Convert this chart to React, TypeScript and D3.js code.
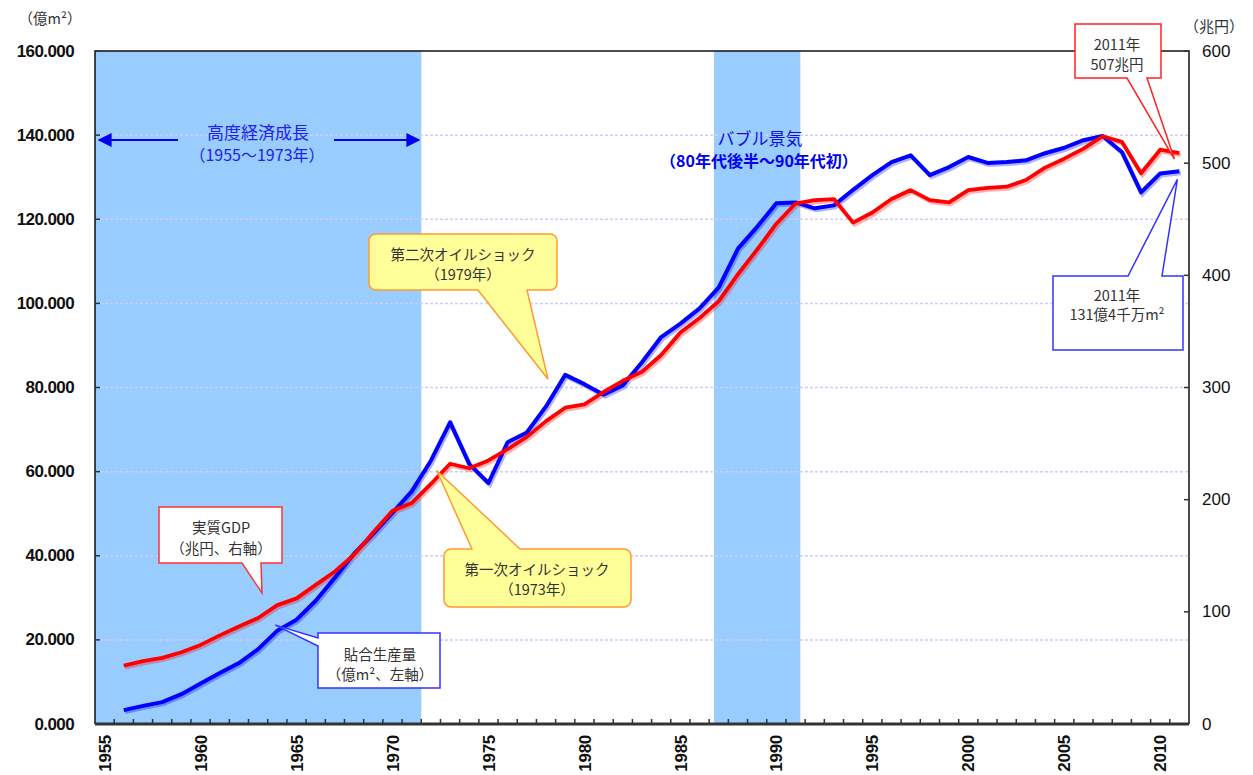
import React from 'react'
import * as d3 from 'd3'

// 段ボール（貼合）生産量と実質GDPの推移

const years = d3.range(1956, 2012)

// 貼合生産量（億m²、左軸）
const production = [
  3.3, 4.3, 5.2, 7.1, 9.6, 12.1, 14.5, 17.8, 22.2, 24.8,
  29.3, 34.8, 40.5, 45.2, 50.2, 55.3, 62.6, 71.7, 61.8, 57.3,
  67.0, 69.3, 75.5, 83.0, 80.8, 78.3, 80.5, 86.0, 92.0, 95.2,
  98.8, 103.8, 113.0, 118.2, 123.8, 124.0, 122.6, 123.3, 127.0, 130.5,
  133.6, 135.2, 130.5, 132.4, 134.8, 133.4, 133.6, 134.0, 135.7, 137.0,
  138.8, 139.8, 136.0, 126.4, 130.9, 131.4,
]

// 実質GDP（兆円、右軸）
const gdp = [
  52, 56, 59, 64, 70.5, 79, 87, 94.5, 106, 112,
  124, 136, 151, 171, 190, 197, 214, 232, 228, 235,
  245, 256, 270, 282, 285, 296, 306, 314, 329, 349,
  362, 377, 401, 423, 446, 464, 467, 468, 447, 456,
  468, 476, 467, 465, 476, 478, 479, 485, 496, 504,
  513, 524, 519, 491, 512, 509,
]

const leftTicks = [0, 20, 40, 60, 80, 100, 120, 140, 160]
const rightTicks = [0, 100, 200, 300, 400, 500, 600]
const yearLabels = [1955, 1960, 1965, 1970, 1975, 1980, 1985, 1990, 1995, 2000, 2005, 2010]

// 網掛け期間（年、カテゴリ境界基準）
const periods = [
  { from: 1954.5, to: 1971.5 },
  { from: 1986.75, to: 1991.25 },
]

const W = 1253
const H = 775
const left = 95
const right = 1189
const top = 51
const bottom = 724

const NUM = '"Liberation Sans", Arial, sans-serif'
const JP = '"Noto Sans CJK JP", "Noto Sans", sans-serif'

const x = d3.scaleLinear().domain([1954.5, 2011.5]).range([left, right])
const yL = d3.scaleLinear().domain([0, 160]).range([bottom, top])
const yR = d3.scaleLinear().domain([0, 600]).range([bottom, top])

const lineL = d3.line<number>().x((d, i) => x(years[i])).y(d => yL(d))
const lineR = d3.line<number>().x((d, i) => x(years[i])).y(d => yR(d))

// 吹き出し（角丸、しっぽ上下）
function roundBubble(l: number, t: number, r: number, b: number, rad: number,
  side: 'top' | 'bottom', x1: number, x2: number, ax: number, ay: number) {
  const p = d3.path()
  p.moveTo(l + rad, t)
  if (side === 'top') {
    p.lineTo(x1, t); p.lineTo(ax, ay); p.lineTo(x2, t)
  }
  p.lineTo(r - rad, t)
  p.arcTo(r, t, r, t + rad, rad)
  p.lineTo(r, b - rad)
  p.arcTo(r, b, r - rad, b, rad)
  if (side === 'bottom') {
    p.lineTo(x2, b); p.lineTo(ax, ay); p.lineTo(x1, b)
  }
  p.lineTo(l + rad, b)
  p.arcTo(l, b, l, b - rad, rad)
  p.lineTo(l, t + rad)
  p.arcTo(l, t, l + rad, t, rad)
  p.closePath()
  return p.toString()
}

const Txt = ({ x, y, children, size = 14.5, fill = '#333', weight = 'normal' }: any) => (
  <text x={x} y={y} textAnchor="middle" dominantBaseline="central"
    fontFamily={JP} fontSize={size} fill={fill} fontWeight={weight}>{children}</text>
)

export default function App() {
  return (
    <svg width={W} height={H} style={{ position: 'absolute', left: 0, top: 0, background: '#fff' }}>
      <defs>
        <marker id="arr" viewBox="0 0 10 10" refX="9" refY="5" markerWidth="7" markerHeight="7" orient="auto-start-reverse">
          <path d="M0,0 L10,5 L0,10 Z" fill="#0000ee" />
        </marker>
      </defs>

      {/* bands */}
      {periods.map((p, i) => (
        <rect key={i} x={x(p.from)} y={top} width={x(p.to) - x(p.from)} height={bottom - top} fill="#99ccff" />
      ))}

      {/* gridlines */}
      {leftTicks.slice(1, -1).map(t => (
        <line key={t} x1={left} x2={right} y1={yL(t)} y2={yL(t)} stroke="#ccccff" strokeWidth={1.5} strokeDasharray="3,2" />
      ))}

      {/* frame */}
      <path d={`M${left},${bottom} V${top} H${right} V${bottom}`} fill="none" stroke="#111" strokeWidth={1.5} />
      <line x1={left} x2={right} y1={bottom} y2={bottom} stroke="#333" strokeWidth={3} />

      {/* ticks */}
      {years.map(yr => (
        <line key={yr} x1={x(yr - 0.5)} x2={x(yr - 0.5)} y1={bottom} y2={bottom - 5} stroke="#333" strokeWidth={1.5} />
      ))}
      {leftTicks.map(t => (
        <line key={t} x1={left} x2={left + 5} y1={yL(t)} y2={yL(t)} stroke="#333" strokeWidth={1.5} />
      ))}
      {rightTicks.map(t => (
        <line key={t} x1={right - 5} x2={right} y1={yR(t)} y2={yR(t)} stroke="#333" strokeWidth={1.5} />
      ))}

      {/* tick labels */}
      {leftTicks.map(t => (
        <text key={t} x={74} y={yL(t)} textAnchor="end" dominantBaseline="central"
          fontFamily={NUM} fontSize={17} fontWeight="bold" fill="#111" letterSpacing={-0.6}>
          {d3.format('.3f')(t)}
        </text>
      ))}
      {rightTicks.map(t => (
        <text key={t} x={1202} y={yR(t)} dominantBaseline="central"
          fontFamily={NUM} fontSize={17} fill="#111">{t}</text>
      ))}
      {yearLabels.map(yr => (
        <text key={yr} transform={`translate(${x(yr)},735) rotate(-90)`} textAnchor="end" dy="0.36em"
          fontFamily={NUM} fontSize={17} fontWeight="bold" fill="#111" letterSpacing={-0.3}>{yr}</text>
      ))}

      {/* axis titles */}
      <Txt x={50} y={17} size={14.5}>（億m²）</Txt>
      <Txt x={1214} y={25} size={15}>（兆円）</Txt>

      {/* series */}
      <g transform="translate(1.5,2)" opacity={0.3}>
        <path d={lineL(production) ?? ''} fill="none" stroke="#0000ff" strokeWidth={4} />
        <path d={lineR(gdp) ?? ''} fill="none" stroke="#ff0000" strokeWidth={4} />
      </g>
      <path d={lineL(production) ?? ''} fill="none" stroke="#0000ff" strokeWidth={4} strokeLinejoin="round" />
      <path d={lineR(gdp) ?? ''} fill="none" stroke="#ff0000" strokeWidth={3.8} strokeLinejoin="round" />

      {/* period labels */}
      <line x1={178} x2={99} y1={140} y2={140} stroke="#0000ee" strokeWidth={2} markerEnd="url(#arr)" />
      <line x1={334} x2={419} y1={140} y2={140} stroke="#0000ee" strokeWidth={2} markerEnd="url(#arr)" />
      <Txt x={258} y={131} size={17} fill="#2020e8">高度経済成長</Txt>
      <Txt x={257} y={154} size={16} fill="#2020e8">（1955～1973年）</Txt>
      <Txt x={760} y={137} size={17} fill="#1010e0">バブル景気</Txt>
      <Txt x={759} y={160} size={16} fill="#0000ee" weight="bold">（80年代後半～90年代初）</Txt>

      {/* oil shock bubbles */}
      <path d={roundBubble(369, 234, 557, 290, 7, 'bottom', 478, 527, x(1978.1), yL(82))}
        fill="#ffff99" stroke="#ff9933" strokeWidth={1.5} />
      <Txt x={463} y={253}>第二次オイルショック</Txt>
      <Txt x={463} y={273}>（1979年）</Txt>

      <path d={roundBubble(444, 549, 631, 607, 7, 'top', 472, 520, x(1972.3), yR(226))}
        fill="#ffff99" stroke="#ff9933" strokeWidth={1.5} />
      <Txt x={537} y={568}>第一次オイルショック</Txt>
      <Txt x={537} y={588}>（1973年）</Txt>

      {/* series labels */}
      <path d={`M159,507 H282 V563 H261 L262,593 L242,563 H159 Z`} fill="#fff" stroke="#ff3333" strokeWidth={1.5} />
      <Txt x={221} y={526}>実質GDP</Txt>
      <Txt x={221} y={547}>（兆円、右軸）</Txt>

      <path d={`M318,633 H440 V688 H318 V646 L${x(1963.9)},${yL(23.5)} L318,638 Z`} fill="#fff" stroke="#3333ff" strokeWidth={1.5} />
      <Txt x={380} y={653}>貼合生産量</Txt>
      <Txt x={380} y={673}>（億m²、左軸）</Txt>

      {/* 2011 labels */}
      <path d={`M1075,24 H1161 V78 H1147 L${x(2011) - 5},${yR(509) + 6} L1127,78 H1075 Z`} fill="#fff" stroke="#ff2222" strokeWidth={1.5} />
      <Txt x={1117} y={43}>2011年</Txt>
      <Txt x={1117} y={63}>507兆円</Txt>

      <path d={`M1053,276 H1128 L${x(2011) - 2},${yL(131.4) + 8} L1162,276 H1183 V350 H1053 Z`} fill="#fff" stroke="#3333ff" strokeWidth={1.5} />
      <Txt x={1117} y={294}>2011年</Txt>
      <Txt x={1117} y={313}>131億4千万m²</Txt>
    </svg>
  )
}
